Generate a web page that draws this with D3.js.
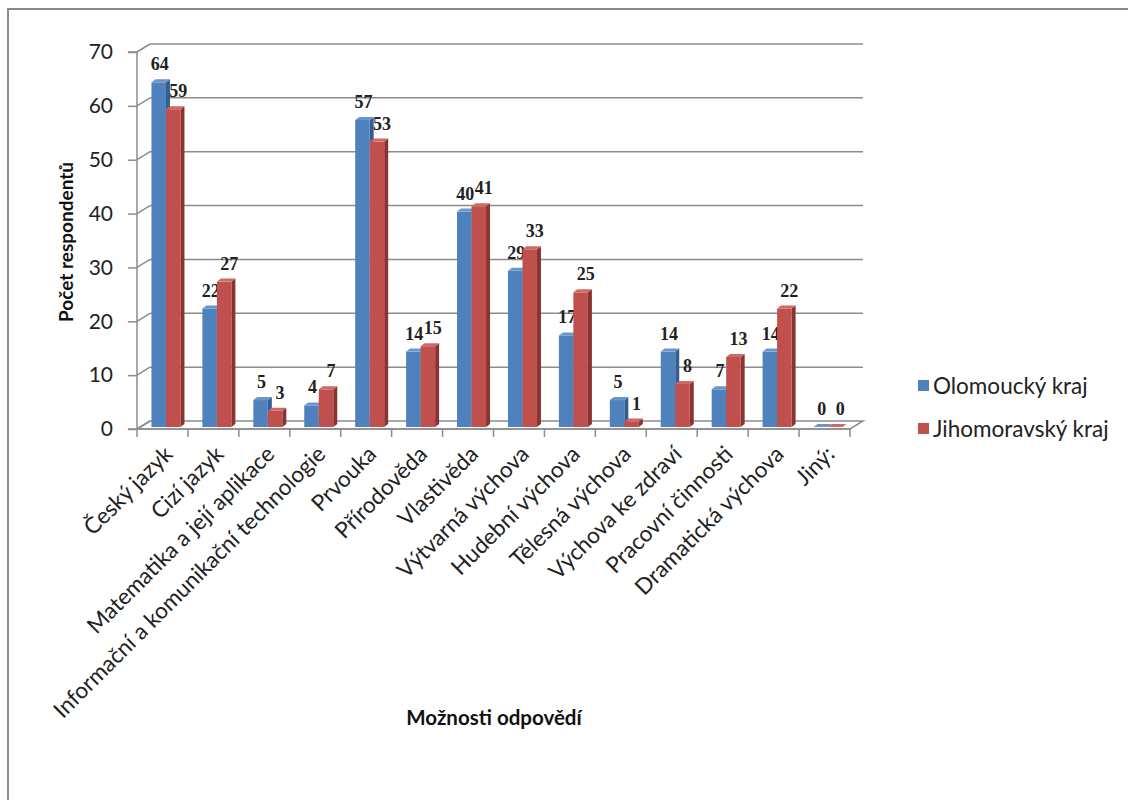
<!DOCTYPE html>
<html><head><meta charset="utf-8">
<script src="https://cdn.jsdelivr.net/npm/d3@7"></script>
<style>
html,body{margin:0;padding:0;background:#fff;}
svg{display:block;}
</style></head>
<body>
<svg id="chart" width="1128" height="800"></svg>
<script>
const categories = ["Český jazyk","Cizí jazyk","Matematika a její aplikace","Informační a komunikační technologie","Prvouka","Přírodověda","Vlastivěda","Výtvarná výchova","Hudební výchova","Tělesná výchova","Výchova ke zdraví","Pracovní činnosti","Dramatická výchova","Jiný:"];
const seriesNames = ["Olomoucký kraj","Jihomoravský kraj"];
const olomoucky = [64,22,5,4,57,14,40,29,17,5,14,7,14,0];
const jihomoravsky = [59,27,3,7,53,15,41,33,25,1,8,13,22,0];
const yTicks = [0,10,20,30,40,50,60,70];
const yTitle = "Počet respondentů";
const xTitle = "Možnosti odpovědí";

const svg = d3.select("#chart");
const fontSans = "Lato, 'Open Sans', sans-serif";

// chart frame
svg.append("path").attr("d","M8,800 L8,9 L1128,9").attr("fill","none").attr("stroke","#8a8a8a").attr("stroke-width",2);

const x0 = 137, x1 = 850, yBase = 429, yTop = 52;
const depth = {dx:13, dy:-8};
const x = d3.scaleBand().domain(categories).range([x0,x1]).paddingInner(0).paddingOuter(0);
const y = d3.scaleLinear().domain([0,70]).range([yBase,yTop]);
const sub = d3.scaleBand().domain(seriesNames).range([0,29]);

const grid = "#8c8c8c";
// back wall gridlines
svg.append("g").selectAll("line").data(yTicks.filter(d=>d>0)).join("line")
  .attr("x1",x0+depth.dx).attr("x2",x1+depth.dx)
  .attr("y1",d=>y(d)+depth.dy).attr("y2",d=>y(d)+depth.dy)
  .attr("stroke",grid).attr("stroke-width",1.5);
// side wall diagonals
svg.append("g").selectAll("line").data(yTicks).join("line")
  .attr("x1",x0).attr("x2",x0+depth.dx)
  .attr("y1",d=>y(d)).attr("y2",d=>y(d)+depth.dy)
  .attr("stroke",grid).attr("stroke-width",1.5);
// floor
svg.append("path")
  .attr("d",`M${x0},${yBase} L${x0+depth.dx},${yBase+depth.dy} L${x1+depth.dx},${yBase+depth.dy} L${x1},${yBase} Z`)
  .attr("fill","none").attr("stroke",grid).attr("stroke-width",1.5);
// y axis
const yAxis = d3.axisLeft(y).tickValues(yTicks).tickSize(9).tickPadding(15);
const gy = svg.append("g").attr("transform",`translate(${x0},0)`).call(yAxis);
gy.select(".domain").attr("stroke",grid).attr("stroke-width",1.5).attr("d",`M-9,${y(70)}H0V${yBase}H-9`);
gy.selectAll(".tick line").attr("stroke",grid).attr("stroke-width",1.5);
gy.selectAll(".tick text").attr("font-family",fontSans).attr("font-size",21).attr("fill","#222");
// x axis
const xAxis = d3.axisBottom(x).tickSize(0).tickFormat("");
const gx = svg.append("g").attr("transform",`translate(0,${yBase})`).call(xAxis);
gx.select(".domain").attr("stroke",grid).attr("stroke-width",1.5).attr("d",`M${x0},0H${x1}`);
gx.selectAll(".tick").remove();
// x tick marks at boundaries
svg.append("g").selectAll("line").data(categories.map((c,i)=>i).concat([categories.length])).join("line")
  .attr("x1",i=> i<categories.length ? x(categories[i]) : x1)
  .attr("x2",i=> i<categories.length ? x(categories[i]) : x1)
  .attr("y1",yBase).attr("y2",yBase+8).attr("stroke",grid).attr("stroke-width",1.5);

// category labels
svg.append("g").selectAll("text").data(categories).join("text")
  .attr("transform",d=>`translate(${x(d)+x.bandwidth()/2+6},${yBase+21}) rotate(-45)`)
  .attr("text-anchor","end").attr("dy","0.35em")
  .attr("font-family",fontSans).attr("font-size",22.5).attr("fill","#222")
  .text(d=>d);

// bars
const colors = {
  "Olomoucký kraj": {front:"#4F81BD", top:"#6A96CC", side:"#345E90"},
  "Jihomoravský kraj": {front:"#C0504D", top:"#D06864", side:"#8A3432"}
};
const labelShift = {"Olomoucký kraj":1, "Jihomoravský kraj":5};
const barShift = {dx:3.5, dy:-2};
const bd = {dx:4, dy:-3};
const rows = [];
categories.forEach((c,i)=>{
  rows.push({cat:c, s:seriesNames[0], v:olomoucky[i]});
  rows.push({cat:c, s:seriesNames[1], v:jihomoravsky[i]});
});
const bw = sub.bandwidth();
const gb = svg.append("g");
rows.forEach(r=>{
  const bx = x(r.cat) + x.bandwidth()/2 - 14.5 + barShift.dx + sub(r.s);
  const by0 = y(0) + barShift.dy;
  const by1 = y(r.v) + barShift.dy;
  const col = colors[r.s];
  const g = gb.append("g");
  g.append("path").attr("d",`M${bx+bw},${by1} L${bx+bw+bd.dx},${by1+bd.dy} L${bx+bw+bd.dx},${by0+bd.dy} L${bx+bw},${by0} Z`).attr("fill",col.side);
  g.append("rect").attr("x",bx).attr("y",by1).attr("width",bw).attr("height",Math.max(0,by0-by1)).attr("fill",col.front);
  g.append("path").attr("d",`M${bx},${by1} L${bx+bd.dx},${by1+bd.dy} L${bx+bw+bd.dx},${by1+bd.dy} L${bx+bw},${by1} Z`).attr("fill",col.top);
  g.append("text").attr("x",bx+bw/2+labelShift[r.s]).attr("y",by1-12)
    .attr("text-anchor","middle").attr("font-family","'Liberation Serif', serif").attr("font-size",18).attr("font-weight","bold").attr("fill","#222")
    .text(r.v);
});

// titles
svg.append("text").attr("transform",`translate(73,242) rotate(-90)`).attr("text-anchor","middle")
  .attr("font-family",fontSans).attr("font-weight","bold").attr("font-size",19).attr("fill","#111").text(yTitle);
svg.append("text").attr("x",494).attr("y",725).attr("text-anchor","middle")
  .attr("font-family",fontSans).attr("font-weight","bold").attr("font-size",20.5).attr("fill","#111").text(xTitle);

// legend
const lg = svg.append("g").attr("transform","translate(918,386)");
seriesNames.forEach((s,i)=>{
  lg.append("rect").attr("x",0).attr("y",i*43-6).attr("width",11).attr("height",11).attr("fill",colors[s].front);
  lg.append("text").attr("x",15).attr("y",i*43).attr("dy","0.35em").attr("font-family",fontSans).attr("font-size",22.5).attr("fill","#222").text(s);
});
</script>
</body></html>
